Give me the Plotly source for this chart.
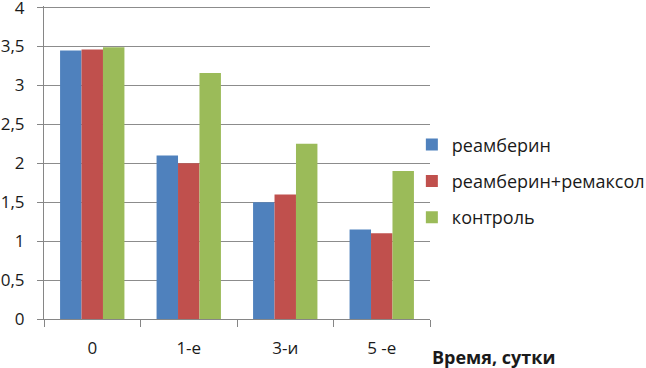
import plotly.graph_objects as go

categories = ["0", "1-е", "3-и", "5 -е"]
reamberin = [3.45, 2.1, 1.5, 1.15]
reamberin_remaxol = [3.46, 2.0, 1.6, 1.1]
control = [3.49, 3.16, 2.25, 1.9]
series_names = ["реамберин", "реамберин+ремаксол", "контроль"]
colors = ["#4F81BD", "#C0504D", "#9BBB59"]
y_ticks = [0, 0.5, 1, 1.5, 2, 2.5, 3, 3.5, 4]
y_tick_labels = ["0", "0,5", "1", "1,5", "2", "2,5", "3", "3,5", "4"]

FONT = "Open Sans"
TXT = "#1a1a1a"
fig = go.Figure()
for i, (name, vals) in enumerate(zip(series_names, [reamberin, reamberin_remaxol, control])):
    fig.add_trace(go.Bar(x=categories, y=vals, name=name, marker_color=colors[i],
                         marker_line_width=0, legendgroup=str(i)))

fig.update_layout(
    width=646, height=368,
    margin=dict(l=44, r=216, t=6, b=49, autoexpand=False),
    paper_bgcolor="white", plot_bgcolor="white",
    barmode="group", bargap=0.333, bargroupgap=0,
    font=dict(family=FONT, size=17, color=TXT),
    showlegend=True,
    legend=dict(x=0.953, xanchor="left", y=0.44, yanchor="middle",
                font=dict(family=FONT, size=18, color=TXT),
                tracegroupgap=10, itemwidth=30, bgcolor="rgba(0,0,0,0)"),
    xaxis=dict(type="category", showline=True, linecolor="#868686", linewidth=1,
               ticks="outside", tickson="boundaries", ticklen=7, tickcolor="#868686",
               ticklabelstandoff=14,
               showgrid=False, tickfont=dict(family=FONT, size=17, color=TXT)),
    yaxis=dict(range=[0, 4.02], tickvals=y_ticks, ticktext=y_tick_labels,
               showline=True, linecolor="#868686", linewidth=1,
               ticks="outside", ticklen=6, tickcolor="#868686",
               ticklabelstandoff=9, ticklabeloverflow="allow",
               showgrid=True, gridcolor="#8c8c8c", gridwidth=1, zeroline=False,
               tickfont=dict(family=FONT, size=17, color=TXT)),
    annotations=[dict(text="<b>Время, сутки</b>", xref="paper", yref="paper",
                      x=1.0, y=-0.122, xanchor="left", yanchor="middle",
                      showarrow=False, font=dict(family=FONT, size=18, color=TXT))],
)
fig.write_html("out.html", config={"displayModeBar": False},
               post_script="document.body.style.margin='0';document.body.style.overflow='hidden';")
